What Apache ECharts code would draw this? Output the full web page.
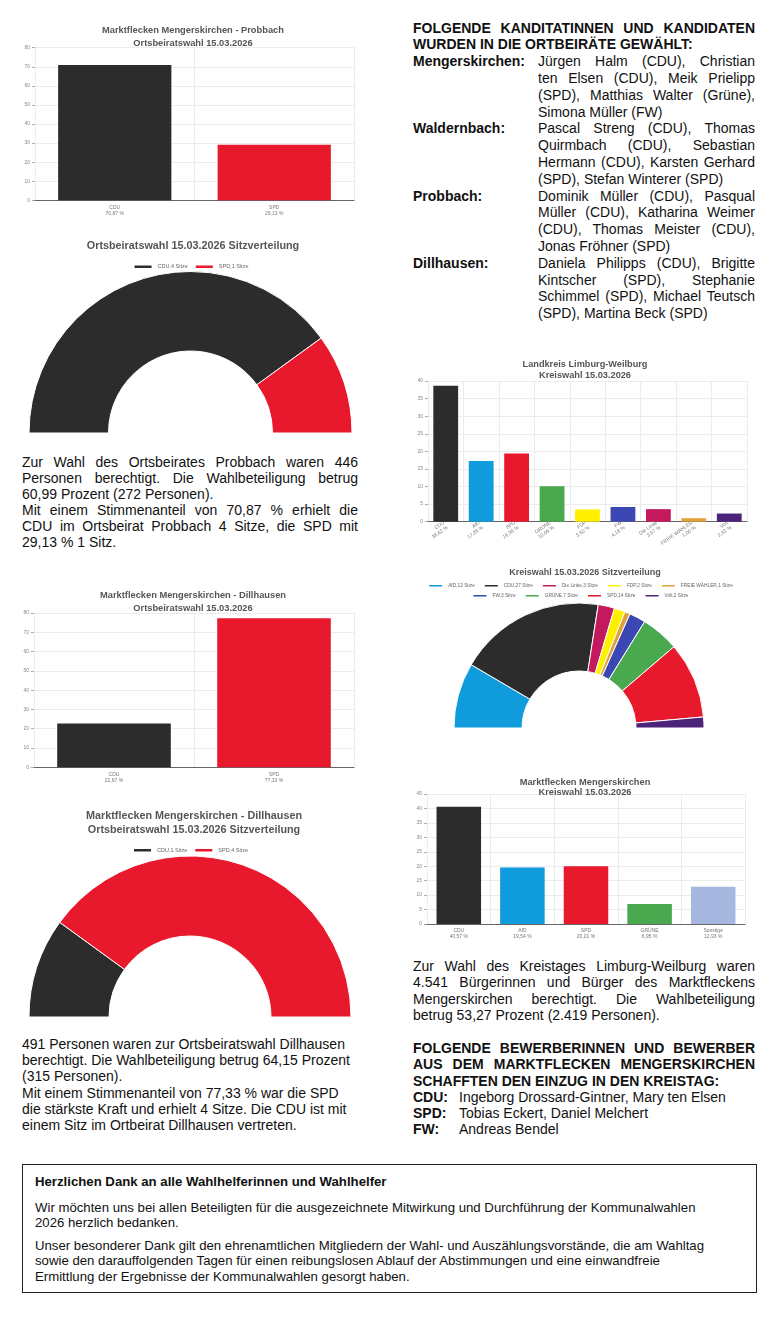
<!DOCTYPE html>
<html><head><meta charset="utf-8">
<script src="https://cdn.jsdelivr.net/npm/echarts@6/dist/echarts.min.js"></script>
<style>
html,body{margin:0;padding:0;background:#fff;}
body{width:780px;height:1320px;position:relative;overflow:hidden;font-family:"Liberation Sans",Arial,sans-serif;color:#111;}
.c{position:absolute;}
.t{position:absolute;font-size:14px;}
.j{text-align:justify;text-align-last:justify;white-space:normal;}
.l{white-space:nowrap;}
.b{font-weight:bold;}
.row{position:relative;}
.lab{position:absolute;left:0;top:0;font-weight:bold;}
.box{position:absolute;left:22px;top:1164px;width:733px;height:127px;border:1.5px solid #222;font-size:13.2px;}
.box div{position:absolute;left:12px;white-space:nowrap;line-height:15px;}
</style></head>
<body>
<div id="c1" class="c" style="left:0;top:15px;width:390px;height:205px"></div>
<div id="c2" class="c" style="left:0;top:225px;width:381px;height:215px"></div>
<div id="c3" class="c" style="left:0;top:578px;width:390px;height:207px"></div>
<div id="c4" class="c" style="left:0;top:795px;width:380px;height:225px"></div>
<div id="c5" class="c" style="left:400px;top:345px;width:370px;height:200px"></div>
<div id="c6" class="c" style="left:400px;top:555px;width:360px;height:178px"></div>
<div id="c7" class="c" style="left:400px;top:765px;width:370px;height:180px"></div>

<div class="t" style="left:22px;top:454px;width:336px;line-height:16px">
<div class="j">Zur Wahl des Ortsbeirates Probbach waren 446</div>
<div class="j">Personen berechtigt. Die Wahlbeteiligung betrug</div>
<div class="l">60,99 Prozent (272 Personen).</div>
<div class="j">Mit einem Stimmenanteil von 70,87 % erhielt die</div>
<div class="j">CDU im Ortsbeirat Probbach 4 Sitze, die SPD mit</div>
<div class="l">29,13 % 1 Sitz.</div>
</div>

<div class="t" style="left:22px;top:1036px;width:340px;line-height:16.2px">
<div class="l">491 Personen waren zur Ortsbeiratswahl Dillhausen</div>
<div class="l">berechtigt. Die Wahlbeteiligung betrug 64,15 Prozent</div>
<div class="l">(315 Personen).</div>
<div class="l">Mit einem Stimmenanteil von 77,33 % war die SPD</div>
<div class="l">die stärkste Kraft und erhielt 4 Sitze. Die CDU ist mit</div>
<div class="l">einem Sitz im Ortbeirat Dillhausen vertreten.</div>
</div>

<div class="t" style="left:413px;top:19.6px;width:342px;line-height:16.8px">
<div class="j b">FOLGENDE KANDITATINNEN UND KANDIDATEN</div>
<div class="l b">WURDEN IN DIE ORTBEIRÄTE GEWÄHLT:</div>
<div class="row"><div class="lab">Mengerskirchen:</div><div style="margin-left:125px">
<div class="j">Jürgen Halm (CDU), Christian</div>
<div class="j">ten Elsen (CDU), Meik Prielipp</div>
<div class="j">(SPD), Matthias Walter (Grüne),</div>
<div class="l">Simona Müller (FW)</div></div></div>
<div class="row"><div class="lab">Waldernbach:</div><div style="margin-left:125px">
<div class="j">Pascal Streng (CDU), Thomas</div>
<div class="j">Quirmbach (CDU), Sebastian</div>
<div class="j">Hermann (CDU), Karsten Gerhard</div>
<div class="l">(SPD), Stefan Winterer (SPD)</div></div></div>
<div class="row"><div class="lab">Probbach:</div><div style="margin-left:125px">
<div class="j">Dominik Müller (CDU), Pasqual</div>
<div class="j">Müller (CDU), Katharina Weimer</div>
<div class="j">(CDU), Thomas Meister (CDU),</div>
<div class="l">Jonas Fröhner (SPD)</div></div></div>
<div class="row"><div class="lab">Dillhausen:</div><div style="margin-left:125px">
<div class="j">Daniela Philipps (CDU), Brigitte</div>
<div class="j">Kintscher (SPD), Stephanie</div>
<div class="j">Schimmel (SPD), Michael Teutsch</div>
<div class="l">(SPD), Martina Beck (SPD)</div></div></div>
</div>

<div class="t" style="left:413px;top:958px;width:342px;line-height:16.3px">
<div class="j">Zur Wahl des Kreistages Limburg-Weilburg waren</div>
<div class="j">4.541 Bürgerinnen und Bürger des Marktfleckens</div>
<div class="j">Mengerskirchen berechtigt. Die Wahlbeteiligung</div>
<div class="l">betrug 53,27 Prozent (2.419 Personen).</div>
</div>
<div class="t" style="left:413px;top:1040px;width:342px;line-height:16.3px">
<div class="j b">FOLGENDE BEWERBERINNEN UND BEWERBER</div>
<div class="j b">AUS DEM MARKTFLECKEN MENGERSKIRCHEN</div>
<div class="l b">SCHAFFTEN DEN EINZUG IN DEN KREISTAG:</div>
<div class="row"><div class="lab">CDU:</div><div style="margin-left:46px">Ingeborg Drossard-Gintner, Mary ten Elsen</div></div>
<div class="row"><div class="lab">SPD:</div><div style="margin-left:46px">Tobias Eckert, Daniel Melchert</div></div>
<div class="row"><div class="lab">FW:</div><div style="margin-left:46px">Andreas Bendel</div></div>
</div>

<div class="box">
<div class="b" style="top:9px">Herzlichen Dank an alle Wahlhelferinnen und Wahlhelfer</div>
<div style="top:35px">Wir möchten uns bei allen Beteiligten für die ausgezeichnete Mitwirkung und Durchführung der Kommunalwahlen</div>
<div style="top:50px">2026 herzlich bedanken.</div>
<div style="top:73px">Unser besonderer Dank gilt den ehrenamtlichen Mitgliedern der Wahl- und Auszählungsvorstände, die am Wahltag</div>
<div style="top:88px">sowie den darauffolgenden Tagen für einen reibungslosen Ablauf der Abstimmungen und eine einwandfreie</div>
<div style="top:104px">Ermittlung der Ergebnisse der Kommunalwahlen gesorgt haben.</div>
</div>

<script>
// ---------- data ----------
var probCats = ['CDU', 'SPD'];
var probVals = [70.87, 29.13];
var probSeatNames = ['CDU', 'SPD'];
var probSeats = [4, 1];

var dillCats = ['CDU', 'SPD'];
var dillVals = [22.67, 77.33];
var dillSeatNames = ['CDU', 'SPD'];
var dillSeats = [1, 4];

var kreisCats = ['CDU', 'AfD', 'SPD', 'GRÜNE', 'FDP', 'FW', 'Die Linke', 'FREIE WÄHLER', 'Volt'];
var kreisVals = [38.62, 17.28, 19.38, 10.09, 3.50, 4.18, 3.57, 1.00, 2.32];
var kreisColors = ['#2d2c2c', '#0f9bdc', '#e8192c', '#4aa84e', '#fff000', '#3b47b3', '#c4195c', '#e3a13c', '#4b2378'];

var seatNames = ['AfD', 'CDU', 'Die Linke', 'FDP', 'FREIE WÄHLER', 'FW', 'GRÜNE', 'SPD', 'Volt'];
var seatVals = [12, 27, 3, 2, 1, 3, 7, 14, 2];
var seatColors = ['#0f9bdc', '#2d2c2c', '#c4195c', '#fff000', '#e3a13c', '#3b47b3', '#4aa84e', '#e8192c', '#4b2378'];

var mengCats = ['CDU', 'AfD', 'SPD', 'GRÜNE', 'Sonstige'];
var mengVals = [40.57, 19.54, 20.01, 6.95, 12.93];
var mengColors = ['#2d2c2c', '#0f9bdc', '#e8192c', '#4aa84e', '#a6b8e0'];

var twoColors = ['#2d2c2c', '#e8192c'];

// ---------- helpers ----------
var FONT = '"Liberation Sans", Arial, sans-serif';
function pct(v) { return v.toFixed(2).replace('.', ',') + ' %'; }

function barOption(c) {
  return {
    animation: false,
    textStyle: { fontFamily: FONT },
    title: { text: c.title, left: c.tx, top: c.ty, textAlign: 'center',
      textStyle: { fontSize: c.tfs || 9.3, fontWeight: 'bold', color: '#555', lineHeight: c.tlh, fontFamily: FONT } },
    grid: Object.assign({ containLabel: false, outerBoundsMode: 'none' }, c.grid),
    xAxis: { type: 'category', data: c.cats.map(function (n, i) { return n + '\n' + pct(c.vals[i]); }),
      axisLine: { lineStyle: { color: '#666', width: 1 } },
      axisTick: { show: false },
      splitLine: { show: true, lineStyle: { color: '#ececec' } },
      axisLabel: { fontSize: 5, color: '#777', lineHeight: 6, interval: 0, margin: c.margin || 4, rotate: c.rotate || 0 } },
    yAxis: { type: 'value', min: 0, max: c.max, interval: c.interval,
      axisLine: { show: false },
      axisTick: { show: true, length: 3, lineStyle: { color: '#aaa' } },
      axisLabel: { fontSize: 5, color: '#888', margin: 5 },
      splitLine: { lineStyle: { color: '#ececec' } } },
    series: [{ type: 'bar', barWidth: c.bw,
      data: c.vals.map(function (v, i) { return { value: v, itemStyle: { color: c.colors[i] } }; }) }]
  };
}

function seatData(names, vals, colors) {
  return names.map(function (n, i) {
    return { name: n + ',' + vals[i] + ' Sitze', value: vals[i], itemStyle: { color: colors[i] } };
  });
}

function seatOption(c) {
  var data = seatData(c.names, c.vals, c.colors);
  var legends = c.rows.map(function (r) {
    return { left: 'center', top: r.top, icon: 'rect', itemWidth: c.iw, itemHeight: c.ih, itemGap: c.gap,
      data: r.items.map(function (k) { return data[k].name; }),
      textStyle: { fontSize: c.lfs, color: '#666', fontFamily: FONT } };
  });
  return {
    animation: false,
    textStyle: { fontFamily: FONT },
    title: { text: c.title, left: c.tx, top: c.ty, textAlign: 'center',
      textStyle: { fontSize: c.tfs, fontWeight: 'bold', color: '#555', lineHeight: c.tlh, fontFamily: FONT } },
    legend: legends,
    series: [{ type: 'pie', startAngle: 180, endAngle: 0, clockwise: true,
      radius: c.radius, center: c.center, label: { show: false }, labelLine: { show: false },
      emphasis: { disabled: true },
      itemStyle: { borderColor: '#fff', borderWidth: 1 },
      data: data }]
  };
}

// ---------- charts ----------
echarts.init(document.getElementById('c1')).setOption(barOption({
  title: 'Marktflecken Mengerskirchen - Probbach\nOrtsbeiratswahl 15.03.2026', tx: 188, ty: 4, tlh: 12.7,
  grid: { left: 35, right: 36, top: 32.7, bottom: 19.7 },
  cats: probCats, vals: probVals, colors: twoColors, max: 80, interval: 10, bw: '71%'
}));

echarts.init(document.getElementById('c2')).setOption(seatOption({
  title: 'Ortsbeiratswahl 15.03.2026 Sitzverteilung', tx: 188, ty: 9.5, tfs: 10.8, tlh: 13,
  names: probSeatNames, vals: probSeats, colors: twoColors,
  rows: [{ top: 33.5, items: [0, 1] }], iw: 19, ih: 4.5, gap: 6, lfs: 5.5,
  radius: [82, 161.5], center: [190.5, 208]
}));

echarts.init(document.getElementById('c3')).setOption(barOption({
  title: 'Marktflecken Mengerskirchen - Dillhausen\nOrtsbeiratswahl 15.03.2026', tx: 188, ty: 6, tlh: 12.7,
  grid: { left: 34, right: 36, top: 35, bottom: 17.7 },
  cats: dillCats, vals: dillVals, colors: twoColors, max: 80, interval: 10, bw: '71%'
}));

echarts.init(document.getElementById('c4')).setOption(seatOption({
  title: 'Marktflecken Mengerskirchen - Dillhausen\nOrtsbeiratswahl 15.03.2026 Sitzverteilung', tx: 189, ty: 9, tfs: 10.8, tlh: 14,
  names: dillSeatNames, vals: dillSeats, colors: twoColors,
  rows: [{ top: 47, items: [0, 1] }], iw: 19, ih: 4.5, gap: 6, lfs: 5.5,
  radius: [81, 161], center: [190, 222]
}));

echarts.init(document.getElementById('c5')).setOption(barOption({
  title: 'Landkreis Limburg-Weilburg\nKreiswahl 15.03.2026', tx: 180, ty: 9, tlh: 11, tfs: 9.2,
  grid: { left: 28, right: 23, top: 36, bottom: 23.3 },
  cats: kreisCats, vals: kreisVals, colors: kreisColors, max: 40, interval: 5, bw: '70%', rotate: 35, margin: 3
}));

echarts.init(document.getElementById('c6')).setOption(seatOption({
  title: 'Kreiswahl 15.03.2026 Sitzverteilung', tx: 180, ty: 8, tfs: 9, tlh: 10,
  names: seatNames, vals: seatVals, colors: seatColors,
  rows: [{ top: 23, items: [0, 1, 2, 3, 4] }, { top: 33, items: [5, 6, 7, 8] }], iw: 15, ih: 3.5, gap: 8, lfs: 4.8,
  radius: [57, 125], center: [179, 173]
}));

echarts.init(document.getElementById('c7')).setOption(barOption({
  title: 'Marktflecken Mengerskirchen\nKreiswahl 15.03.2026', tx: 180, ty: 7, tlh: 10.5, tfs: 9.3,
  grid: { left: 27, right: 25, top: 29, bottom: 21 },
  cats: mengCats, vals: mengVals, colors: mengColors, max: 45, interval: 5, bw: '70%'
}));
</script>
</body></html>
